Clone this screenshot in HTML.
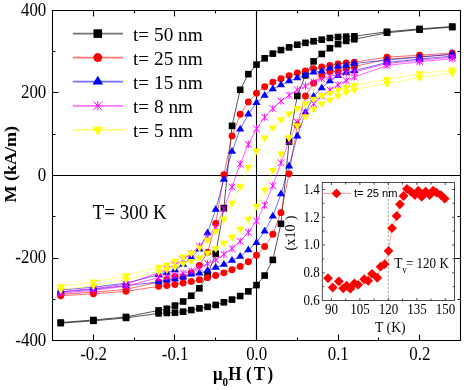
<!DOCTYPE html>
<html><head><meta charset="utf-8"><style>
html,body{margin:0;padding:0;background:#fff;width:464px;height:390px;overflow:hidden}
svg{display:block;will-change:transform}
text{font-family:"Liberation Serif",serif;fill:#000}
</style></head><body>
<svg width="464" height="390" viewBox="0 0 464 390">
<path d="M52.5 10.5H460.5V340.5H52.5Z" fill="none" stroke="#000" stroke-width="1.1"/>
<path d="M52.5 175.5H460.5M256.5 10.5V340.5" stroke="#000" stroke-width="1.1"/>
<path d="M93.5 340.5v-6M93.5 10.5v6M174.5 340.5v-6M174.5 10.5v6M256.5 340.5v-6M256.5 10.5v6M338.5 340.5v-6M338.5 10.5v6M419.5 340.5v-6M419.5 10.5v6M134.5 340.5v-3M134.5 10.5v3M215.5 340.5v-3M215.5 10.5v3M297.5 340.5v-3M297.5 10.5v3M378.5 340.5v-3M378.5 10.5v3M52.5 340.5h6M460.5 340.5h-6M52.5 258.5h6M460.5 258.5h-6M52.5 175.5h6M460.5 175.5h-6M52.5 92.5h6M460.5 92.5h-6M52.5 10.5h6M460.5 10.5h-6M52.5 299.5h3M460.5 299.5h-3M52.5 216.5h3M460.5 216.5h-3M52.5 134.5h3M460.5 134.5h-3M52.5 51.5h3M460.5 51.5h-3" stroke="#000" stroke-width="1.1"/>
<text transform="translate(46.30 15.50) scale(0.965 1.09)" text-anchor="end" font-size="17.5">400</text>
<text transform="translate(46.30 98.00) scale(0.965 1.09)" text-anchor="end" font-size="17.5">200</text>
<text transform="translate(46.30 180.50) scale(0.965 1.09)" text-anchor="end" font-size="17.5">0</text>
<text transform="translate(46.30 263.00) scale(0.965 1.09)" text-anchor="end" font-size="17.5">-200</text>
<text transform="translate(46.30 345.50) scale(0.965 1.09)" text-anchor="end" font-size="17.5">-400</text>
<text transform="translate(93.60 360.00) scale(0.965 1.09)" text-anchor="middle" font-size="17.5">-0.2</text>
<text transform="translate(175.15 360.00) scale(0.965 1.09)" text-anchor="middle" font-size="17.5">-0.1</text>
<text transform="translate(256.70 360.00) scale(0.965 1.09)" text-anchor="middle" font-size="17.5">0.0</text>
<text transform="translate(338.25 360.00) scale(0.965 1.09)" text-anchor="middle" font-size="17.5">0.1</text>
<text transform="translate(419.80 360.00) scale(0.965 1.09)" text-anchor="middle" font-size="17.5">0.2</text>
<text transform="translate(213.00 380.10) scale(1.0 1.1)" font-weight="bold" font-size="17">&#956;</text>
<text transform="translate(222.60 386.00) scale(1.0 1.1)" font-weight="bold" font-size="11">0</text>
<text transform="translate(228.30 380.10) scale(1.0 1.1)" font-weight="bold" font-size="17">H</text>
<text transform="translate(246.10 380.10) scale(1.0 1.1)" font-weight="bold" font-size="17">(</text>
<text transform="translate(253.70 380.10) scale(1.0 1.1)" font-weight="bold" font-size="17">T</text>
<text transform="translate(267.60 380.10) scale(1.0 1.1)" font-weight="bold" font-size="17">)</text>
<text transform="translate(16.4 164.3) rotate(-90) scale(1.062 1.0)" text-anchor="middle" font-size="17" font-weight="bold">M (kA/m)</text>
<text transform="translate(92.60 219.20) scale(1.0 1.05)" font-size="19">T= 300 K</text>
<polyline points="452.22,26.54 419.60,28.87 386.98,31.75 354.36,36.29 346.20,36.68 338.05,37.04 329.89,37.99 321.74,39.64 313.59,41.27 305.43,42.84 297.27,44.74 289.12,47.39 280.96,50.09 272.81,53.62 264.65,58.29 256.50,64.59 248.34,74.14 240.19,89.79 232.03,125.89 223.88,208.09 215.72,253.74 207.57,274.40 199.41,288.29 191.26,295.74 183.11,301.49 174.95,305.59 166.80,308.77 158.64,310.40 126.02,316.94 93.40,320.01 60.78,322.54 60.78,323.14 93.40,320.81 126.02,317.94 158.64,313.39 166.80,313.00 174.95,312.64 183.11,311.69 191.26,310.04 199.41,308.42 207.57,306.84 215.72,304.94 223.88,302.29 232.03,299.59 240.19,296.07 248.34,291.39 256.50,285.09 264.65,275.54 272.81,259.89 280.96,223.79 289.12,141.59 297.27,95.94 305.43,75.28 313.59,61.39 321.74,53.94 329.89,48.19 338.05,44.09 346.20,40.92 354.36,39.28 386.98,32.75 419.60,29.67 452.22,27.14" fill="none" stroke="#000000" stroke-width="0.9" stroke-opacity="0.75"/>
<polyline points="452.22,53.05 419.60,55.20 386.98,57.17 354.36,62.16 346.20,62.96 338.05,64.06 329.89,65.56 321.74,67.06 313.59,68.81 305.43,70.86 297.27,73.06 289.12,75.66 280.96,78.76 272.81,82.11 264.65,86.71 256.50,93.30 248.34,102.00 240.19,114.30 232.03,135.90 223.88,174.70 215.72,223.40 207.57,252.51 199.41,265.36 191.26,272.93 183.11,277.03 174.95,276.79 166.80,279.63 158.64,282.01 126.02,289.36 93.40,292.23 60.78,294.18 60.78,295.68 93.40,293.83 126.02,291.36 158.64,286.36 166.80,285.56 174.95,284.46 183.11,282.96 191.26,281.46 199.41,279.71 207.57,277.66 215.72,275.46 223.88,272.86 232.03,269.76 240.19,266.41 248.34,261.81 256.50,255.23 264.65,246.53 272.81,234.23 280.96,212.63 289.12,173.83 297.27,125.13 305.43,96.01 313.59,83.16 321.74,75.60 329.89,71.50 338.05,71.74 346.20,68.90 354.36,66.52 386.98,59.17 419.60,56.80 452.22,54.55" fill="none" stroke="#ff0000" stroke-width="0.9" stroke-opacity="0.65"/>
<polyline points="452.22,54.13 419.60,57.13 386.98,59.96 354.36,63.55 346.20,65.42 338.05,66.57 329.89,68.32 321.74,71.22 313.59,72.20 305.43,75.02 297.27,77.97 289.12,81.07 280.96,85.02 272.81,89.00 264.65,95.60 256.50,102.80 248.34,114.30 240.19,129.20 232.03,151.50 223.88,179.40 215.72,209.42 207.57,233.02 199.41,249.12 191.26,257.55 183.11,264.57 174.95,269.90 166.80,273.00 158.64,274.85 126.02,283.09 93.40,287.21 60.78,289.91 60.78,291.91 93.40,289.21 126.02,285.59 158.64,282.00 166.80,280.12 174.95,278.97 183.11,277.22 191.26,274.32 199.41,273.35 207.57,270.52 215.72,267.57 223.88,264.47 232.03,260.52 240.19,256.55 248.34,249.95 256.50,242.75 264.65,231.25 272.81,216.35 280.96,194.05 289.12,166.15 297.27,136.12 305.43,112.52 313.59,96.42 321.74,88.00 329.89,80.97 338.05,75.65 346.20,72.55 354.36,70.70 386.98,62.46 419.60,59.13 452.22,56.13" fill="none" stroke="#0000ff" stroke-width="0.9" stroke-opacity="0.65"/>
<polyline points="452.22,57.17 419.60,60.17 386.98,63.52 354.36,72.09 346.20,72.80 338.05,74.45 329.89,76.45 321.74,78.70 313.59,81.80 305.43,86.05 297.27,89.75 289.12,95.30 280.96,101.10 272.81,108.50 264.65,117.30 256.50,128.80 248.34,144.40 240.19,164.00 232.03,186.90 223.88,208.75 215.72,227.39 207.57,236.78 199.41,246.05 191.26,253.56 183.11,259.75 174.95,264.87 166.80,269.12 158.64,272.67 126.02,284.17 93.40,288.72 60.78,291.52 60.78,293.02 93.40,290.32 126.02,286.17 158.64,277.60 166.80,276.90 174.95,275.25 183.11,273.25 191.26,270.99 199.41,267.89 207.57,263.65 215.72,259.95 223.88,254.40 232.03,248.60 240.19,241.19 248.34,232.39 256.50,220.90 264.65,205.30 272.81,185.69 280.96,162.79 289.12,140.95 297.27,122.30 305.43,112.91 313.59,103.65 321.74,96.13 329.89,89.94 338.05,84.82 346.20,80.57 354.36,77.02 386.98,65.52 419.60,61.77 452.22,58.67" fill="none" stroke="#ff00ff" stroke-width="0.9" stroke-opacity="0.7"/>
<polyline points="452.22,69.77 419.60,73.60 386.98,79.37 354.36,85.30 346.20,87.35 338.05,89.95 329.89,93.30 321.74,95.40 313.59,98.90 305.43,103.70 297.27,108.30 289.12,113.65 280.96,119.60 272.81,127.70 264.65,137.75 256.50,150.70 248.34,167.25 240.19,186.40 232.03,203.00 223.88,219.10 215.72,231.30 207.57,240.10 199.41,247.75 191.26,252.90 183.11,256.75 174.95,261.05 166.80,264.70 158.64,267.05 126.02,275.52 93.40,281.80 60.78,286.42 60.78,289.62 93.40,285.80 126.02,279.52 158.64,271.40 166.80,269.35 174.95,266.75 183.11,263.40 191.26,261.30 199.41,257.80 207.57,253.00 215.72,248.40 223.88,243.05 232.03,237.10 240.19,229.00 248.34,218.95 256.50,206.00 264.65,189.45 272.81,170.30 280.96,153.70 289.12,137.60 297.27,125.40 305.43,116.60 313.59,108.95 321.74,103.80 329.89,99.95 338.05,95.65 346.20,92.00 354.36,89.65 386.98,83.37 419.60,77.60 452.22,72.97" fill="none" stroke="#ffff00" stroke-width="0.9" stroke-opacity="0.55"/>
<rect x="57.48" y="319.24" width="6.60" height="6.60" fill="#000000"/>
<rect x="90.10" y="316.71" width="6.60" height="6.60" fill="#000000"/>
<rect x="122.72" y="313.64" width="6.60" height="6.60" fill="#000000"/>
<rect x="155.34" y="307.10" width="6.60" height="6.60" fill="#000000"/>
<rect x="163.50" y="305.47" width="6.60" height="6.60" fill="#000000"/>
<rect x="171.65" y="302.29" width="6.60" height="6.60" fill="#000000"/>
<rect x="179.81" y="298.19" width="6.60" height="6.60" fill="#000000"/>
<rect x="187.96" y="292.44" width="6.60" height="6.60" fill="#000000"/>
<rect x="196.11" y="284.99" width="6.60" height="6.60" fill="#000000"/>
<rect x="204.27" y="271.10" width="6.60" height="6.60" fill="#000000"/>
<rect x="212.42" y="250.44" width="6.60" height="6.60" fill="#000000"/>
<rect x="220.58" y="204.79" width="6.60" height="6.60" fill="#000000"/>
<rect x="228.73" y="122.59" width="6.60" height="6.60" fill="#000000"/>
<rect x="236.89" y="86.49" width="6.60" height="6.60" fill="#000000"/>
<rect x="245.04" y="70.84" width="6.60" height="6.60" fill="#000000"/>
<rect x="253.20" y="61.29" width="6.60" height="6.60" fill="#000000"/>
<rect x="261.35" y="54.99" width="6.60" height="6.60" fill="#000000"/>
<rect x="269.51" y="50.32" width="6.60" height="6.60" fill="#000000"/>
<rect x="277.66" y="46.79" width="6.60" height="6.60" fill="#000000"/>
<rect x="285.82" y="44.09" width="6.60" height="6.60" fill="#000000"/>
<rect x="293.97" y="41.44" width="6.60" height="6.60" fill="#000000"/>
<rect x="302.13" y="39.54" width="6.60" height="6.60" fill="#000000"/>
<rect x="310.29" y="37.97" width="6.60" height="6.60" fill="#000000"/>
<rect x="318.44" y="36.34" width="6.60" height="6.60" fill="#000000"/>
<rect x="326.59" y="34.69" width="6.60" height="6.60" fill="#000000"/>
<rect x="334.75" y="33.74" width="6.60" height="6.60" fill="#000000"/>
<rect x="342.90" y="33.38" width="6.60" height="6.60" fill="#000000"/>
<rect x="351.06" y="32.99" width="6.60" height="6.60" fill="#000000"/>
<rect x="383.68" y="28.45" width="6.60" height="6.60" fill="#000000"/>
<rect x="416.30" y="25.57" width="6.60" height="6.60" fill="#000000"/>
<rect x="448.92" y="23.24" width="6.60" height="6.60" fill="#000000"/>
<rect x="57.48" y="319.84" width="6.60" height="6.60" fill="#000000"/>
<rect x="90.10" y="317.51" width="6.60" height="6.60" fill="#000000"/>
<rect x="122.72" y="314.64" width="6.60" height="6.60" fill="#000000"/>
<rect x="155.34" y="310.09" width="6.60" height="6.60" fill="#000000"/>
<rect x="163.50" y="309.70" width="6.60" height="6.60" fill="#000000"/>
<rect x="171.65" y="309.34" width="6.60" height="6.60" fill="#000000"/>
<rect x="179.81" y="308.39" width="6.60" height="6.60" fill="#000000"/>
<rect x="187.96" y="306.74" width="6.60" height="6.60" fill="#000000"/>
<rect x="196.11" y="305.12" width="6.60" height="6.60" fill="#000000"/>
<rect x="204.27" y="303.54" width="6.60" height="6.60" fill="#000000"/>
<rect x="212.42" y="301.64" width="6.60" height="6.60" fill="#000000"/>
<rect x="220.58" y="298.99" width="6.60" height="6.60" fill="#000000"/>
<rect x="228.73" y="296.29" width="6.60" height="6.60" fill="#000000"/>
<rect x="236.89" y="292.77" width="6.60" height="6.60" fill="#000000"/>
<rect x="245.04" y="288.09" width="6.60" height="6.60" fill="#000000"/>
<rect x="253.20" y="281.79" width="6.60" height="6.60" fill="#000000"/>
<rect x="261.35" y="272.24" width="6.60" height="6.60" fill="#000000"/>
<rect x="269.51" y="256.59" width="6.60" height="6.60" fill="#000000"/>
<rect x="277.66" y="220.49" width="6.60" height="6.60" fill="#000000"/>
<rect x="285.82" y="138.29" width="6.60" height="6.60" fill="#000000"/>
<rect x="293.97" y="92.64" width="6.60" height="6.60" fill="#000000"/>
<rect x="302.13" y="71.98" width="6.60" height="6.60" fill="#000000"/>
<rect x="310.29" y="58.09" width="6.60" height="6.60" fill="#000000"/>
<rect x="318.44" y="50.64" width="6.60" height="6.60" fill="#000000"/>
<rect x="326.59" y="44.89" width="6.60" height="6.60" fill="#000000"/>
<rect x="334.75" y="40.79" width="6.60" height="6.60" fill="#000000"/>
<rect x="342.90" y="37.62" width="6.60" height="6.60" fill="#000000"/>
<rect x="351.06" y="35.98" width="6.60" height="6.60" fill="#000000"/>
<rect x="383.68" y="29.45" width="6.60" height="6.60" fill="#000000"/>
<rect x="416.30" y="26.37" width="6.60" height="6.60" fill="#000000"/>
<rect x="448.92" y="23.84" width="6.60" height="6.60" fill="#000000"/>
<circle cx="60.78" cy="294.18" r="3.45" fill="#ff0000"/>
<circle cx="93.40" cy="292.23" r="3.45" fill="#ff0000"/>
<circle cx="126.02" cy="289.36" r="3.45" fill="#ff0000"/>
<circle cx="158.64" cy="282.01" r="3.45" fill="#ff0000"/>
<circle cx="166.80" cy="279.63" r="3.45" fill="#ff0000"/>
<circle cx="174.95" cy="276.79" r="3.45" fill="#ff0000"/>
<circle cx="183.11" cy="277.03" r="3.45" fill="#ff0000"/>
<circle cx="191.26" cy="272.93" r="3.45" fill="#ff0000"/>
<circle cx="199.41" cy="265.36" r="3.45" fill="#ff0000"/>
<circle cx="207.57" cy="252.51" r="3.45" fill="#ff0000"/>
<circle cx="215.72" cy="223.40" r="3.45" fill="#ff0000"/>
<circle cx="223.88" cy="174.70" r="3.45" fill="#ff0000"/>
<circle cx="232.03" cy="135.90" r="3.45" fill="#ff0000"/>
<circle cx="240.19" cy="114.30" r="3.45" fill="#ff0000"/>
<circle cx="248.34" cy="102.00" r="3.45" fill="#ff0000"/>
<circle cx="256.50" cy="93.30" r="3.45" fill="#ff0000"/>
<circle cx="264.65" cy="86.71" r="3.45" fill="#ff0000"/>
<circle cx="272.81" cy="82.11" r="3.45" fill="#ff0000"/>
<circle cx="280.96" cy="78.76" r="3.45" fill="#ff0000"/>
<circle cx="289.12" cy="75.66" r="3.45" fill="#ff0000"/>
<circle cx="297.27" cy="73.06" r="3.45" fill="#ff0000"/>
<circle cx="305.43" cy="70.86" r="3.45" fill="#ff0000"/>
<circle cx="313.59" cy="68.81" r="3.45" fill="#ff0000"/>
<circle cx="321.74" cy="67.06" r="3.45" fill="#ff0000"/>
<circle cx="329.89" cy="65.56" r="3.45" fill="#ff0000"/>
<circle cx="338.05" cy="64.06" r="3.45" fill="#ff0000"/>
<circle cx="346.20" cy="62.96" r="3.45" fill="#ff0000"/>
<circle cx="354.36" cy="62.16" r="3.45" fill="#ff0000"/>
<circle cx="386.98" cy="57.17" r="3.45" fill="#ff0000"/>
<circle cx="419.60" cy="55.20" r="3.45" fill="#ff0000"/>
<circle cx="452.22" cy="53.05" r="3.45" fill="#ff0000"/>
<circle cx="60.78" cy="295.68" r="3.45" fill="#ff0000"/>
<circle cx="93.40" cy="293.83" r="3.45" fill="#ff0000"/>
<circle cx="126.02" cy="291.36" r="3.45" fill="#ff0000"/>
<circle cx="158.64" cy="286.36" r="3.45" fill="#ff0000"/>
<circle cx="166.80" cy="285.56" r="3.45" fill="#ff0000"/>
<circle cx="174.95" cy="284.46" r="3.45" fill="#ff0000"/>
<circle cx="183.11" cy="282.96" r="3.45" fill="#ff0000"/>
<circle cx="191.26" cy="281.46" r="3.45" fill="#ff0000"/>
<circle cx="199.41" cy="279.71" r="3.45" fill="#ff0000"/>
<circle cx="207.57" cy="277.66" r="3.45" fill="#ff0000"/>
<circle cx="215.72" cy="275.46" r="3.45" fill="#ff0000"/>
<circle cx="223.88" cy="272.86" r="3.45" fill="#ff0000"/>
<circle cx="232.03" cy="269.76" r="3.45" fill="#ff0000"/>
<circle cx="240.19" cy="266.41" r="3.45" fill="#ff0000"/>
<circle cx="248.34" cy="261.81" r="3.45" fill="#ff0000"/>
<circle cx="256.50" cy="255.23" r="3.45" fill="#ff0000"/>
<circle cx="264.65" cy="246.53" r="3.45" fill="#ff0000"/>
<circle cx="272.81" cy="234.23" r="3.45" fill="#ff0000"/>
<circle cx="280.96" cy="212.63" r="3.45" fill="#ff0000"/>
<circle cx="289.12" cy="173.83" r="3.45" fill="#ff0000"/>
<circle cx="297.27" cy="125.13" r="3.45" fill="#ff0000"/>
<circle cx="305.43" cy="96.01" r="3.45" fill="#ff0000"/>
<circle cx="313.59" cy="83.16" r="3.45" fill="#ff0000"/>
<circle cx="321.74" cy="75.60" r="3.45" fill="#ff0000"/>
<circle cx="329.89" cy="71.50" r="3.45" fill="#ff0000"/>
<circle cx="338.05" cy="71.74" r="3.45" fill="#ff0000"/>
<circle cx="346.20" cy="68.90" r="3.45" fill="#ff0000"/>
<circle cx="354.36" cy="66.52" r="3.45" fill="#ff0000"/>
<circle cx="386.98" cy="59.17" r="3.45" fill="#ff0000"/>
<circle cx="419.60" cy="56.80" r="3.45" fill="#ff0000"/>
<circle cx="452.22" cy="54.55" r="3.45" fill="#ff0000"/>
<path d="M60.78 285.38L64.88 292.18H56.68Z" fill="#0000ff"/>
<path d="M93.40 282.68L97.50 289.48H89.30Z" fill="#0000ff"/>
<path d="M126.02 278.55L130.12 285.35H121.92Z" fill="#0000ff"/>
<path d="M158.64 270.32L162.74 277.12H154.54Z" fill="#0000ff"/>
<path d="M166.80 268.47L170.90 275.27H162.70Z" fill="#0000ff"/>
<path d="M174.95 265.37L179.05 272.17H170.85Z" fill="#0000ff"/>
<path d="M183.11 260.04L187.21 266.84H179.01Z" fill="#0000ff"/>
<path d="M191.26 253.01L195.36 259.81H187.16Z" fill="#0000ff"/>
<path d="M199.41 244.59L203.51 251.39H195.31Z" fill="#0000ff"/>
<path d="M207.57 228.49L211.67 235.29H203.47Z" fill="#0000ff"/>
<path d="M215.72 204.89L219.82 211.69H211.62Z" fill="#0000ff"/>
<path d="M223.88 174.87L227.98 181.67H219.78Z" fill="#0000ff"/>
<path d="M232.03 146.97L236.13 153.77H227.94Z" fill="#0000ff"/>
<path d="M240.19 124.67L244.29 131.47H236.09Z" fill="#0000ff"/>
<path d="M248.34 109.77L252.44 116.57H244.25Z" fill="#0000ff"/>
<path d="M256.50 98.27L260.60 105.07H252.40Z" fill="#0000ff"/>
<path d="M264.65 91.07L268.75 97.87H260.55Z" fill="#0000ff"/>
<path d="M272.81 84.47L276.91 91.27H268.71Z" fill="#0000ff"/>
<path d="M280.96 80.49L285.06 87.29H276.86Z" fill="#0000ff"/>
<path d="M289.12 76.54L293.22 83.34H285.02Z" fill="#0000ff"/>
<path d="M297.27 73.44L301.38 80.24H293.17Z" fill="#0000ff"/>
<path d="M305.43 70.49L309.53 77.29H301.33Z" fill="#0000ff"/>
<path d="M313.59 67.67L317.69 74.47H309.49Z" fill="#0000ff"/>
<path d="M321.74 66.69L325.84 73.49H317.64Z" fill="#0000ff"/>
<path d="M329.89 63.79L334.00 70.59H325.79Z" fill="#0000ff"/>
<path d="M338.05 62.04L342.15 68.84H333.95Z" fill="#0000ff"/>
<path d="M346.20 60.89L350.31 67.69H342.10Z" fill="#0000ff"/>
<path d="M354.36 59.01L358.46 65.81H350.26Z" fill="#0000ff"/>
<path d="M386.98 55.43L391.08 62.23H382.88Z" fill="#0000ff"/>
<path d="M419.60 52.60L423.70 59.40H415.50Z" fill="#0000ff"/>
<path d="M452.22 49.60L456.32 56.40H448.12Z" fill="#0000ff"/>
<path d="M60.78 287.38L64.88 294.18H56.68Z" fill="#0000ff"/>
<path d="M93.40 284.68L97.50 291.48H89.30Z" fill="#0000ff"/>
<path d="M126.02 281.05L130.12 287.85H121.92Z" fill="#0000ff"/>
<path d="M158.64 277.47L162.74 284.27H154.54Z" fill="#0000ff"/>
<path d="M166.80 275.59L170.90 282.39H162.70Z" fill="#0000ff"/>
<path d="M174.95 274.44L179.05 281.24H170.85Z" fill="#0000ff"/>
<path d="M183.11 272.69L187.21 279.49H179.01Z" fill="#0000ff"/>
<path d="M191.26 269.79L195.36 276.59H187.16Z" fill="#0000ff"/>
<path d="M199.41 268.81L203.51 275.61H195.31Z" fill="#0000ff"/>
<path d="M207.57 265.99L211.67 272.79H203.47Z" fill="#0000ff"/>
<path d="M215.72 263.04L219.82 269.84H211.62Z" fill="#0000ff"/>
<path d="M223.88 259.94L227.98 266.74H219.78Z" fill="#0000ff"/>
<path d="M232.03 255.99L236.13 262.79H227.94Z" fill="#0000ff"/>
<path d="M240.19 252.01L244.29 258.81H236.09Z" fill="#0000ff"/>
<path d="M248.34 245.41L252.44 252.21H244.25Z" fill="#0000ff"/>
<path d="M256.50 238.21L260.60 245.01H252.40Z" fill="#0000ff"/>
<path d="M264.65 226.71L268.75 233.51H260.55Z" fill="#0000ff"/>
<path d="M272.81 211.81L276.91 218.61H268.71Z" fill="#0000ff"/>
<path d="M280.96 189.51L285.06 196.31H276.86Z" fill="#0000ff"/>
<path d="M289.12 161.61L293.22 168.41H285.02Z" fill="#0000ff"/>
<path d="M297.27 131.59L301.38 138.39H293.17Z" fill="#0000ff"/>
<path d="M305.43 107.99L309.53 114.79H301.33Z" fill="#0000ff"/>
<path d="M313.59 91.89L317.69 98.69H309.49Z" fill="#0000ff"/>
<path d="M321.74 83.47L325.84 90.27H317.64Z" fill="#0000ff"/>
<path d="M329.89 76.44L334.00 83.24H325.79Z" fill="#0000ff"/>
<path d="M338.05 71.11L342.15 77.91H333.95Z" fill="#0000ff"/>
<path d="M346.20 68.01L350.31 74.81H342.10Z" fill="#0000ff"/>
<path d="M354.36 66.16L358.46 72.96H350.26Z" fill="#0000ff"/>
<path d="M386.98 57.93L391.08 64.73H382.88Z" fill="#0000ff"/>
<path d="M419.60 54.60L423.70 61.40H415.50Z" fill="#0000ff"/>
<path d="M452.22 51.60L456.32 58.40H448.12Z" fill="#0000ff"/>
<path d="M60.78 287.92V295.12M57.48 288.22L64.08 294.82M64.08 288.22L57.48 294.82" stroke="#ff00ff" stroke-width="1" fill="none"/>
<path d="M93.40 285.12V292.32M90.10 285.42L96.70 292.02M96.70 285.42L90.10 292.02" stroke="#ff00ff" stroke-width="1" fill="none"/>
<path d="M126.02 280.57V287.77M122.72 280.87L129.32 287.47M129.32 280.87L122.72 287.47" stroke="#ff00ff" stroke-width="1" fill="none"/>
<path d="M158.64 269.07V276.27M155.34 269.37L161.94 275.97M161.94 269.37L155.34 275.97" stroke="#ff00ff" stroke-width="1" fill="none"/>
<path d="M166.80 265.52V272.72M163.50 265.82L170.10 272.42M170.10 265.82L163.50 272.42" stroke="#ff00ff" stroke-width="1" fill="none"/>
<path d="M174.95 261.27V268.47M171.65 261.57L178.25 268.17M178.25 261.57L171.65 268.17" stroke="#ff00ff" stroke-width="1" fill="none"/>
<path d="M183.11 256.15V263.35M179.81 256.45L186.41 263.05M186.41 256.45L179.81 263.05" stroke="#ff00ff" stroke-width="1" fill="none"/>
<path d="M191.26 249.96V257.16M187.96 250.26L194.56 256.86M194.56 250.26L187.96 256.86" stroke="#ff00ff" stroke-width="1" fill="none"/>
<path d="M199.41 242.45V249.65M196.11 242.75L202.72 249.35M202.72 242.75L196.11 249.35" stroke="#ff00ff" stroke-width="1" fill="none"/>
<path d="M207.57 233.18V240.38M204.27 233.48L210.87 240.08M210.87 233.48L204.27 240.08" stroke="#ff00ff" stroke-width="1" fill="none"/>
<path d="M215.72 223.79V230.99M212.42 224.09L219.03 230.69M219.03 224.09L212.42 230.69" stroke="#ff00ff" stroke-width="1" fill="none"/>
<path d="M223.88 205.15V212.35M220.58 205.45L227.18 212.05M227.18 205.45L220.58 212.05" stroke="#ff00ff" stroke-width="1" fill="none"/>
<path d="M232.03 183.30V190.50M228.73 183.60L235.34 190.20M235.34 183.60L228.73 190.20" stroke="#ff00ff" stroke-width="1" fill="none"/>
<path d="M240.19 160.40V167.60M236.89 160.70L243.49 167.30M243.49 160.70L236.89 167.30" stroke="#ff00ff" stroke-width="1" fill="none"/>
<path d="M248.34 140.80V148.00M245.04 141.10L251.65 147.70M251.65 141.10L245.04 147.70" stroke="#ff00ff" stroke-width="1" fill="none"/>
<path d="M256.50 125.20V132.40M253.20 125.50L259.80 132.10M259.80 125.50L253.20 132.10" stroke="#ff00ff" stroke-width="1" fill="none"/>
<path d="M264.65 113.70V120.90M261.35 114.00L267.95 120.60M267.95 114.00L261.35 120.60" stroke="#ff00ff" stroke-width="1" fill="none"/>
<path d="M272.81 104.90V112.10M269.51 105.20L276.11 111.80M276.11 105.20L269.51 111.80" stroke="#ff00ff" stroke-width="1" fill="none"/>
<path d="M280.96 97.50V104.70M277.66 97.80L284.26 104.40M284.26 97.80L277.66 104.40" stroke="#ff00ff" stroke-width="1" fill="none"/>
<path d="M289.12 91.70V98.90M285.82 92.00L292.42 98.60M292.42 92.00L285.82 98.60" stroke="#ff00ff" stroke-width="1" fill="none"/>
<path d="M297.27 86.15V93.35M293.97 86.45L300.57 93.05M300.57 86.45L293.97 93.05" stroke="#ff00ff" stroke-width="1" fill="none"/>
<path d="M305.43 82.45V89.65M302.13 82.75L308.73 89.35M308.73 82.75L302.13 89.35" stroke="#ff00ff" stroke-width="1" fill="none"/>
<path d="M313.59 78.20V85.40M310.29 78.50L316.89 85.10M316.89 78.50L310.29 85.10" stroke="#ff00ff" stroke-width="1" fill="none"/>
<path d="M321.74 75.10V82.30M318.44 75.40L325.04 82.00M325.04 75.40L318.44 82.00" stroke="#ff00ff" stroke-width="1" fill="none"/>
<path d="M329.89 72.85V80.05M326.59 73.15L333.19 79.75M333.19 73.15L326.59 79.75" stroke="#ff00ff" stroke-width="1" fill="none"/>
<path d="M338.05 70.85V78.05M334.75 71.15L341.35 77.75M341.35 71.15L334.75 77.75" stroke="#ff00ff" stroke-width="1" fill="none"/>
<path d="M346.20 69.20V76.40M342.90 69.50L349.50 76.10M349.50 69.50L342.90 76.10" stroke="#ff00ff" stroke-width="1" fill="none"/>
<path d="M354.36 68.49V75.69M351.06 68.79L357.66 75.39M357.66 68.79L351.06 75.39" stroke="#ff00ff" stroke-width="1" fill="none"/>
<path d="M386.98 59.92V67.12M383.68 60.22L390.28 66.82M390.28 60.22L383.68 66.82" stroke="#ff00ff" stroke-width="1" fill="none"/>
<path d="M419.60 56.57V63.77M416.30 56.87L422.90 63.47M422.90 56.87L416.30 63.47" stroke="#ff00ff" stroke-width="1" fill="none"/>
<path d="M452.22 53.57V60.77M448.92 53.87L455.52 60.47M455.52 53.87L448.92 60.47" stroke="#ff00ff" stroke-width="1" fill="none"/>
<path d="M60.78 289.42V296.62M57.48 289.72L64.08 296.32M64.08 289.72L57.48 296.32" stroke="#ff00ff" stroke-width="1" fill="none"/>
<path d="M93.40 286.72V293.92M90.10 287.02L96.70 293.62M96.70 287.02L90.10 293.62" stroke="#ff00ff" stroke-width="1" fill="none"/>
<path d="M126.02 282.57V289.77M122.72 282.87L129.32 289.47M129.32 282.87L122.72 289.47" stroke="#ff00ff" stroke-width="1" fill="none"/>
<path d="M158.64 274.00V281.20M155.34 274.30L161.94 280.90M161.94 274.30L155.34 280.90" stroke="#ff00ff" stroke-width="1" fill="none"/>
<path d="M166.80 273.30V280.50M163.50 273.60L170.10 280.20M170.10 273.60L163.50 280.20" stroke="#ff00ff" stroke-width="1" fill="none"/>
<path d="M174.95 271.65V278.85M171.65 271.95L178.25 278.55M178.25 271.95L171.65 278.55" stroke="#ff00ff" stroke-width="1" fill="none"/>
<path d="M183.11 269.65V276.85M179.81 269.95L186.41 276.55M186.41 269.95L179.81 276.55" stroke="#ff00ff" stroke-width="1" fill="none"/>
<path d="M191.26 267.39V274.59M187.96 267.69L194.56 274.29M194.56 267.69L187.96 274.29" stroke="#ff00ff" stroke-width="1" fill="none"/>
<path d="M199.41 264.29V271.49M196.11 264.59L202.72 271.19M202.72 264.59L196.11 271.19" stroke="#ff00ff" stroke-width="1" fill="none"/>
<path d="M207.57 260.05V267.25M204.27 260.35L210.87 266.95M210.87 260.35L204.27 266.95" stroke="#ff00ff" stroke-width="1" fill="none"/>
<path d="M215.72 256.35V263.55M212.42 256.65L219.03 263.25M219.03 256.65L212.42 263.25" stroke="#ff00ff" stroke-width="1" fill="none"/>
<path d="M223.88 250.80V258.00M220.58 251.10L227.18 257.70M227.18 251.10L220.58 257.70" stroke="#ff00ff" stroke-width="1" fill="none"/>
<path d="M232.03 245.00V252.20M228.73 245.30L235.34 251.90M235.34 245.30L228.73 251.90" stroke="#ff00ff" stroke-width="1" fill="none"/>
<path d="M240.19 237.59V244.79M236.89 237.89L243.49 244.49M243.49 237.89L236.89 244.49" stroke="#ff00ff" stroke-width="1" fill="none"/>
<path d="M248.34 228.79V235.99M245.04 229.09L251.65 235.69M251.65 229.09L245.04 235.69" stroke="#ff00ff" stroke-width="1" fill="none"/>
<path d="M256.50 217.30V224.50M253.20 217.60L259.80 224.20M259.80 217.60L253.20 224.20" stroke="#ff00ff" stroke-width="1" fill="none"/>
<path d="M264.65 201.70V208.90M261.35 202.00L267.95 208.60M267.95 202.00L261.35 208.60" stroke="#ff00ff" stroke-width="1" fill="none"/>
<path d="M272.81 182.09V189.29M269.51 182.39L276.11 188.99M276.11 182.39L269.51 188.99" stroke="#ff00ff" stroke-width="1" fill="none"/>
<path d="M280.96 159.19V166.39M277.66 159.49L284.26 166.09M284.26 159.49L277.66 166.09" stroke="#ff00ff" stroke-width="1" fill="none"/>
<path d="M289.12 137.35V144.55M285.82 137.65L292.42 144.25M292.42 137.65L285.82 144.25" stroke="#ff00ff" stroke-width="1" fill="none"/>
<path d="M297.27 118.70V125.90M293.97 119.00L300.57 125.60M300.57 119.00L293.97 125.60" stroke="#ff00ff" stroke-width="1" fill="none"/>
<path d="M305.43 109.31V116.51M302.13 109.61L308.73 116.21M308.73 109.61L302.13 116.21" stroke="#ff00ff" stroke-width="1" fill="none"/>
<path d="M313.59 100.05V107.25M310.29 100.35L316.89 106.95M316.89 100.35L310.29 106.95" stroke="#ff00ff" stroke-width="1" fill="none"/>
<path d="M321.74 92.53V99.73M318.44 92.83L325.04 99.43M325.04 92.83L318.44 99.43" stroke="#ff00ff" stroke-width="1" fill="none"/>
<path d="M329.89 86.34V93.54M326.59 86.64L333.19 93.24M333.19 86.64L326.59 93.24" stroke="#ff00ff" stroke-width="1" fill="none"/>
<path d="M338.05 81.22V88.42M334.75 81.52L341.35 88.12M341.35 81.52L334.75 88.12" stroke="#ff00ff" stroke-width="1" fill="none"/>
<path d="M346.20 76.97V84.17M342.90 77.27L349.50 83.87M349.50 77.27L342.90 83.87" stroke="#ff00ff" stroke-width="1" fill="none"/>
<path d="M354.36 73.42V80.62M351.06 73.72L357.66 80.32M357.66 73.72L351.06 80.32" stroke="#ff00ff" stroke-width="1" fill="none"/>
<path d="M386.98 61.92V69.12M383.68 62.22L390.28 68.82M390.28 62.22L383.68 68.82" stroke="#ff00ff" stroke-width="1" fill="none"/>
<path d="M419.60 58.17V65.37M416.30 58.47L422.90 65.07M422.90 58.47L416.30 65.07" stroke="#ff00ff" stroke-width="1" fill="none"/>
<path d="M452.22 55.07V62.27M448.92 55.37L455.52 61.97M455.52 55.37L448.92 61.97" stroke="#ff00ff" stroke-width="1" fill="none"/>
<path d="M60.78 290.96L64.88 284.16H56.68Z" fill="#ffff00"/>
<path d="M93.40 286.33L97.50 279.53H89.30Z" fill="#ffff00"/>
<path d="M126.02 280.06L130.12 273.26H121.92Z" fill="#ffff00"/>
<path d="M158.64 271.58L162.74 264.78H154.54Z" fill="#ffff00"/>
<path d="M166.80 269.23L170.90 262.43H162.70Z" fill="#ffff00"/>
<path d="M174.95 265.58L179.05 258.78H170.85Z" fill="#ffff00"/>
<path d="M183.11 261.28L187.21 254.48H179.01Z" fill="#ffff00"/>
<path d="M191.26 257.43L195.36 250.63H187.16Z" fill="#ffff00"/>
<path d="M199.41 252.28L203.51 245.48H195.31Z" fill="#ffff00"/>
<path d="M207.57 244.63L211.67 237.83H203.47Z" fill="#ffff00"/>
<path d="M215.72 235.83L219.82 229.03H211.62Z" fill="#ffff00"/>
<path d="M223.88 223.63L227.98 216.83H219.78Z" fill="#ffff00"/>
<path d="M232.03 207.53L236.13 200.73H227.94Z" fill="#ffff00"/>
<path d="M240.19 190.93L244.29 184.13H236.09Z" fill="#ffff00"/>
<path d="M248.34 171.78L252.44 164.98H244.25Z" fill="#ffff00"/>
<path d="M256.50 155.23L260.60 148.43H252.40Z" fill="#ffff00"/>
<path d="M264.65 142.28L268.75 135.48H260.55Z" fill="#ffff00"/>
<path d="M272.81 132.23L276.91 125.43H268.71Z" fill="#ffff00"/>
<path d="M280.96 124.13L285.06 117.33H276.86Z" fill="#ffff00"/>
<path d="M289.12 118.18L293.22 111.38H285.02Z" fill="#ffff00"/>
<path d="M297.27 112.83L301.38 106.03H293.17Z" fill="#ffff00"/>
<path d="M305.43 108.23L309.53 101.43H301.33Z" fill="#ffff00"/>
<path d="M313.59 103.43L317.69 96.63H309.49Z" fill="#ffff00"/>
<path d="M321.74 99.93L325.84 93.13H317.64Z" fill="#ffff00"/>
<path d="M329.89 97.83L334.00 91.03H325.79Z" fill="#ffff00"/>
<path d="M338.05 94.48L342.15 87.68H333.95Z" fill="#ffff00"/>
<path d="M346.20 91.88L350.31 85.08H342.10Z" fill="#ffff00"/>
<path d="M354.36 89.83L358.46 83.03H350.26Z" fill="#ffff00"/>
<path d="M386.98 83.91L391.08 77.11H382.88Z" fill="#ffff00"/>
<path d="M419.60 78.13L423.70 71.33H415.50Z" fill="#ffff00"/>
<path d="M452.22 74.31L456.32 67.51H448.12Z" fill="#ffff00"/>
<path d="M60.78 294.16L64.88 287.36H56.68Z" fill="#ffff00"/>
<path d="M93.40 290.33L97.50 283.53H89.30Z" fill="#ffff00"/>
<path d="M126.02 284.06L130.12 277.26H121.92Z" fill="#ffff00"/>
<path d="M158.64 275.93L162.74 269.13H154.54Z" fill="#ffff00"/>
<path d="M166.80 273.88L170.90 267.08H162.70Z" fill="#ffff00"/>
<path d="M174.95 271.28L179.05 264.48H170.85Z" fill="#ffff00"/>
<path d="M183.11 267.93L187.21 261.13H179.01Z" fill="#ffff00"/>
<path d="M191.26 265.83L195.36 259.03H187.16Z" fill="#ffff00"/>
<path d="M199.41 262.33L203.51 255.53H195.31Z" fill="#ffff00"/>
<path d="M207.57 257.53L211.67 250.73H203.47Z" fill="#ffff00"/>
<path d="M215.72 252.93L219.82 246.13H211.62Z" fill="#ffff00"/>
<path d="M223.88 247.58L227.98 240.78H219.78Z" fill="#ffff00"/>
<path d="M232.03 241.63L236.13 234.83H227.94Z" fill="#ffff00"/>
<path d="M240.19 233.53L244.29 226.73H236.09Z" fill="#ffff00"/>
<path d="M248.34 223.48L252.44 216.68H244.25Z" fill="#ffff00"/>
<path d="M256.50 210.53L260.60 203.73H252.40Z" fill="#ffff00"/>
<path d="M264.65 193.98L268.75 187.18H260.55Z" fill="#ffff00"/>
<path d="M272.81 174.83L276.91 168.03H268.71Z" fill="#ffff00"/>
<path d="M280.96 158.23L285.06 151.43H276.86Z" fill="#ffff00"/>
<path d="M289.12 142.13L293.22 135.33H285.02Z" fill="#ffff00"/>
<path d="M297.27 129.93L301.38 123.13H293.17Z" fill="#ffff00"/>
<path d="M305.43 121.13L309.53 114.33H301.33Z" fill="#ffff00"/>
<path d="M313.59 113.48L317.69 106.68H309.49Z" fill="#ffff00"/>
<path d="M321.74 108.33L325.84 101.53H317.64Z" fill="#ffff00"/>
<path d="M329.89 104.48L334.00 97.68H325.79Z" fill="#ffff00"/>
<path d="M338.05 100.18L342.15 93.38H333.95Z" fill="#ffff00"/>
<path d="M346.20 96.53L350.31 89.73H342.10Z" fill="#ffff00"/>
<path d="M354.36 94.18L358.46 87.38H350.26Z" fill="#ffff00"/>
<path d="M386.98 87.91L391.08 81.11H382.88Z" fill="#ffff00"/>
<path d="M419.60 82.13L423.70 75.33H415.50Z" fill="#ffff00"/>
<path d="M452.22 77.51L456.32 70.71H448.12Z" fill="#ffff00"/>
<path d="M72.8 33.6H123" stroke="#000000" stroke-width="1.7" stroke-opacity="0.55"/>
<rect x="93.51" y="29.31" width="8.58" height="8.58" fill="#000000"/>
<text transform="translate(133.00 40.50) scale(1.015 1.03)" font-size="19">t= 50 nm</text>
<path d="M72.8 57.6H123" stroke="#ff0000" stroke-width="1.7" stroke-opacity="0.55"/>
<circle cx="97.80" cy="57.60" r="4.49" fill="#ff0000"/>
<text transform="translate(133.00 64.50) scale(1.015 1.03)" font-size="19">t= 25 nm</text>
<path d="M72.8 81.6H123" stroke="#0000ff" stroke-width="1.7" stroke-opacity="0.55"/>
<path d="M97.80 75.71L103.13 84.55H92.47Z" fill="#0000ff"/>
<text transform="translate(133.00 88.50) scale(1.015 1.03)" font-size="19">t= 15 nm</text>
<path d="M72.8 105.8H123" stroke="#ff00ff" stroke-width="1.7" stroke-opacity="0.55"/>
<path d="M97.80 101.12V110.48M93.51 101.51L102.09 110.09M102.09 101.51L93.51 110.09" stroke="#ff00ff" stroke-width="1" fill="none"/>
<text transform="translate(133.00 112.70) scale(1.015 1.03)" font-size="19">t= 8 nm</text>
<path d="M72.8 129.8H123" stroke="#ffff00" stroke-width="1.7" stroke-opacity="0.55"/>
<path d="M97.80 135.69L103.13 126.85H92.47Z" fill="#ffff00"/>
<text transform="translate(133.00 136.70) scale(1.015 1.03)" font-size="19">t= 5 nm</text>
<rect x="322.3" y="182.5" width="132.2" height="118.0" fill="#fff" stroke="#3a3a3a" stroke-width="0.9"/>
<path d="M331.40 300.5v-2.5M331.40 182.5v2.5M345.63 300.5v-2M345.63 182.5v2M359.87 300.5v-2.5M359.87 182.5v2.5M374.10 300.5v-2M374.10 182.5v2M388.34 300.5v-2.5M388.34 182.5v2.5M402.57 300.5v-2M402.57 182.5v2M416.81 300.5v-2.5M416.81 182.5v2.5M431.04 300.5v-2M431.04 182.5v2M445.28 300.5v-2.5M445.28 182.5v2.5M322.3 286.62h2M454.5 286.62h-2M322.3 272.75h2.5M454.5 272.75h-2.5M322.3 258.88h2M454.5 258.88h-2M322.3 245.00h2.5M454.5 245.00h-2.5M322.3 231.12h2M454.5 231.12h-2M322.3 217.25h2.5M454.5 217.25h-2.5M322.3 203.37h2M454.5 203.37h-2M322.3 189.50h2.5M454.5 189.50h-2.5" stroke="#3a3a3a" stroke-width="0.9"/>
<text transform="translate(319.70 193.90) scale(1.0 1.18)" text-anchor="end" font-size="13">1.4</text>
<text transform="translate(319.70 221.65) scale(1.0 1.18)" text-anchor="end" font-size="13">1.2</text>
<text transform="translate(319.70 249.40) scale(1.0 1.18)" text-anchor="end" font-size="13">1.0</text>
<text transform="translate(319.70 277.15) scale(1.0 1.18)" text-anchor="end" font-size="13">0.8</text>
<text transform="translate(319.70 304.90) scale(1.0 1.18)" text-anchor="end" font-size="13">0.6</text>
<text transform="translate(331.50 314.00) scale(1.0 1.16)" text-anchor="middle" font-size="13">90</text>
<text transform="translate(359.97 314.00) scale(1.0 1.16)" text-anchor="middle" font-size="13">105</text>
<text transform="translate(388.44 314.00) scale(1.0 1.16)" text-anchor="middle" font-size="13">120</text>
<text transform="translate(416.91 314.00) scale(1.0 1.16)" text-anchor="middle" font-size="13">135</text>
<text transform="translate(445.38 314.00) scale(1.0 1.16)" text-anchor="middle" font-size="13">150</text>
<text transform="translate(390.30 331.80) scale(1.0 1.12)" text-anchor="middle" font-size="13.8">T (K)</text>
<text transform="translate(294.8 233.0) rotate(-90) scale(1.04 1.12)" text-anchor="middle" font-size="13.6">(x10<tspan font-size="8" dy="-5" fill-opacity="0.25">5</tspan><tspan dy="5">)</tspan></text>
<text transform="translate(394.20 267.80) scale(1.0 1.1)" font-size="13.3">T</text>
<text transform="translate(402.20 273.40) scale(1.0 1.05)" font-size="9">v</text>
<text transform="translate(406.00 267.80) scale(0.98 1.1)" font-size="13.3">= 120 K</text>
<polyline points="327.98,278.16 332.73,287.60 338.80,281.35 343.17,288.29 346.58,285.65 350.38,288.71 354.37,283.43 358.16,284.82 364.24,279.27 368.22,280.80 372.02,273.86 377.33,277.75 380.56,266.64 384.73,264.15 388.53,250.97 391.95,228.21 396.69,216.00 399.92,204.35 403.52,196.02 406.94,188.94 410.93,191.58 414.91,195.05 418.33,190.75 421.74,196.85 425.73,191.58 429.72,195.05 433.13,190.75 436.55,192.55 440.91,195.05 444.71,198.66" fill="none" stroke="#ff8080" stroke-width="0.7"/>
<path d="M322.3 193.4H351" stroke="#ff8080" stroke-width="0.8"/>
<text transform="translate(354.00 196.90) scale(1.0 1.05)" font-family="Liberation Sans, sans-serif" font-size="11.1" style="font-family:'Liberation Sans',sans-serif">t= 25 nm</text>
<path d="M388.34 183.5V300.5" stroke="#333" stroke-width="0.9" stroke-dasharray="1 3"/>
<path d="M327.98 273.26L332.88 278.16L327.98 283.06L323.08 278.16Z" fill="#ff0000"/>
<path d="M332.73 282.70L337.63 287.60L332.73 292.50L327.83 287.60Z" fill="#ff0000"/>
<path d="M338.80 276.45L343.70 281.35L338.80 286.25L333.90 281.35Z" fill="#ff0000"/>
<path d="M343.17 283.39L348.07 288.29L343.17 293.19L338.27 288.29Z" fill="#ff0000"/>
<path d="M346.58 280.75L351.48 285.65L346.58 290.55L341.68 285.65Z" fill="#ff0000"/>
<path d="M350.38 283.81L355.28 288.71L350.38 293.61L345.48 288.71Z" fill="#ff0000"/>
<path d="M354.37 278.53L359.27 283.43L354.37 288.33L349.47 283.43Z" fill="#ff0000"/>
<path d="M358.16 279.92L363.06 284.82L358.16 289.72L353.26 284.82Z" fill="#ff0000"/>
<path d="M364.24 274.37L369.14 279.27L364.24 284.17L359.34 279.27Z" fill="#ff0000"/>
<path d="M368.22 275.90L373.12 280.80L368.22 285.70L363.32 280.80Z" fill="#ff0000"/>
<path d="M372.02 268.96L376.92 273.86L372.02 278.76L367.12 273.86Z" fill="#ff0000"/>
<path d="M377.33 272.85L382.23 277.75L377.33 282.64L372.43 277.75Z" fill="#ff0000"/>
<path d="M380.56 261.75L385.46 266.64L380.56 271.54L375.66 266.64Z" fill="#ff0000"/>
<path d="M384.73 259.25L389.63 264.15L384.73 269.05L379.83 264.15Z" fill="#ff0000"/>
<path d="M388.53 246.07L393.43 250.97L388.53 255.87L383.63 250.97Z" fill="#ff0000"/>
<path d="M391.95 223.31L396.85 228.21L391.95 233.11L387.05 228.21Z" fill="#ff0000"/>
<path d="M396.69 211.10L401.59 216.00L396.69 220.90L391.79 216.00Z" fill="#ff0000"/>
<path d="M399.92 199.45L404.82 204.35L399.92 209.25L395.02 204.35Z" fill="#ff0000"/>
<path d="M403.52 191.12L408.42 196.02L403.52 200.92L398.62 196.02Z" fill="#ff0000"/>
<path d="M406.94 184.04L411.84 188.94L406.94 193.84L402.04 188.94Z" fill="#ff0000"/>
<path d="M410.93 186.68L415.83 191.58L410.93 196.48L406.03 191.58Z" fill="#ff0000"/>
<path d="M414.91 190.15L419.81 195.05L414.91 199.95L410.01 195.05Z" fill="#ff0000"/>
<path d="M418.33 185.85L423.23 190.75L418.33 195.65L413.43 190.75Z" fill="#ff0000"/>
<path d="M421.74 191.95L426.64 196.85L421.74 201.75L416.84 196.85Z" fill="#ff0000"/>
<path d="M425.73 186.68L430.63 191.58L425.73 196.48L420.83 191.58Z" fill="#ff0000"/>
<path d="M429.72 190.15L434.62 195.05L429.72 199.95L424.82 195.05Z" fill="#ff0000"/>
<path d="M433.13 185.85L438.03 190.75L433.13 195.65L428.23 190.75Z" fill="#ff0000"/>
<path d="M436.55 187.65L441.45 192.55L436.55 197.45L431.65 192.55Z" fill="#ff0000"/>
<path d="M440.91 190.15L445.81 195.05L440.91 199.95L436.01 195.05Z" fill="#ff0000"/>
<path d="M444.71 193.76L449.61 198.66L444.71 203.56L439.81 198.66Z" fill="#ff0000"/>
<path d="M336.5 188.5L341.4 193.4L336.5 198.3L331.6 193.4Z" fill="#ff0000"/>
</svg>
</body></html>
